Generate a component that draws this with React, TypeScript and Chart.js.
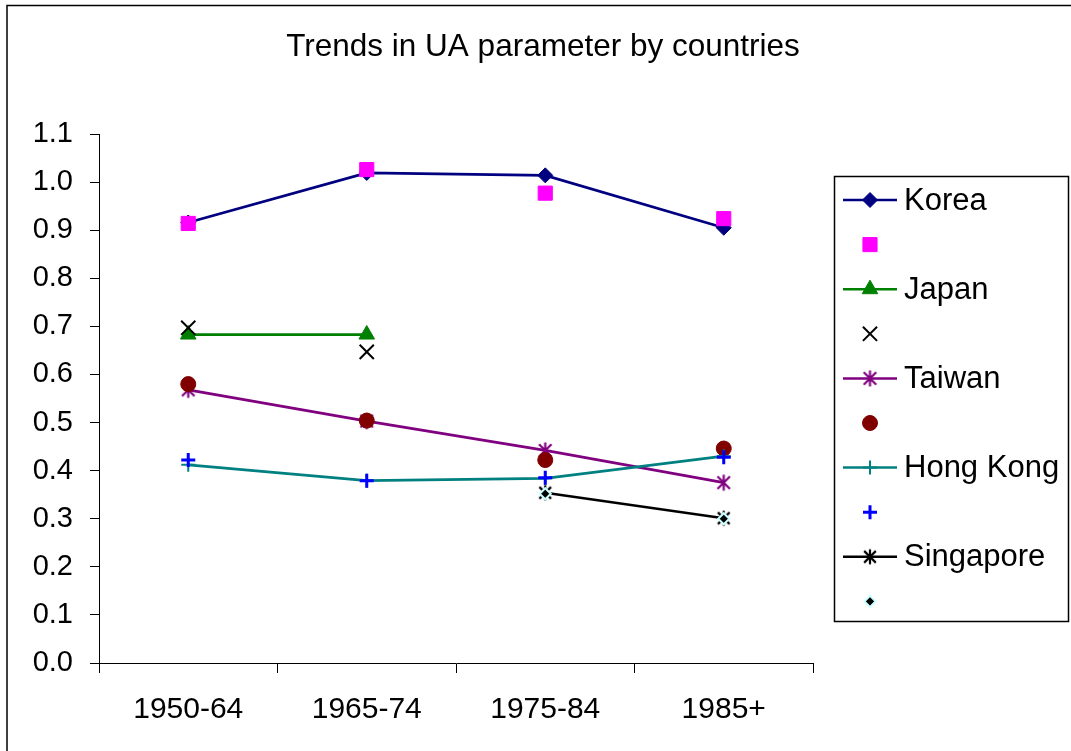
import React, { useEffect, useRef } from 'react';
import { Chart, registerables } from 'chart.js';
import { drawPoint } from 'chart.js/helpers';

Chart.register(...registerables);

const TITLE = 'Trends in UA parameter by countries';
const categories = ['1950-64', '1965-74', '1975-84', '1985+'];

const korea = [0.916, 1.019, 1.014, 0.905];
const koreaAlt = [0.914, 1.026, 0.977, 0.924];
const japan = [0.683, 0.683, null, null];
const japanAlt = [0.697, 0.647, null, null];
const taiwan = [0.568, 0.503, 0.442, 0.375];
const taiwanAlt = [0.58, 0.504, 0.422, 0.446];
const hongKong = [0.412, 0.379, 0.384, 0.43];
const hongKongAlt = [0.422, 0.379, 0.385, 0.428];
const singapore = [null, null, 0.354, 0.301];
const singaporeAlt = [null, null, 0.352, 0.3];

const yMin = 0;
const yMax = 1.1;
const yStep = 0.1;

const FONT = '"Liberation Sans", Arial, Helvetica, sans-serif';

function makeAsterisk(color: string, r: number, lw: number): HTMLCanvasElement {
  const size = Math.ceil(2 * r + lw + 2);
  const c = document.createElement('canvas');
  c.width = size;
  c.height = size;
  const ctx = c.getContext('2d') as CanvasRenderingContext2D;
  const m = size / 2;
  const d = r * 0.78;
  ctx.strokeStyle = color;
  ctx.lineWidth = lw;
  ctx.beginPath();
  ctx.moveTo(m, m - r);
  ctx.lineTo(m, m + r);
  ctx.moveTo(m - d, m - d);
  ctx.lineTo(m + d, m + d);
  ctx.moveTo(m + d, m - d);
  ctx.lineTo(m - d, m + d);
  ctx.stroke();
  return c;
}

const decorPlugin = {
  id: 'decor',
  afterDraw(chart: any) {
    const ctx: CanvasRenderingContext2D = chart.ctx;
    ctx.save();
    // outer chart border (only left/top visible)
    ctx.strokeStyle = '#000';
    ctx.lineWidth = 1.5;
    ctx.strokeRect(7, 5.5, chart.width + 20, chart.height + 20);

    // title
    ctx.fillStyle = '#000';
    ctx.font = `31.5px ${FONT}`;
    ctx.textAlign = 'center';
    ctx.textBaseline = 'middle';
    ctx.fillText(TITLE, 543, 47);

    // legend box
    ctx.lineWidth = 1.5;
    ctx.strokeStyle = '#000';
    ctx.strokeRect(834.5, 176.5, 234, 445);

    const datasets = chart.data.datasets;
    const startY = 200;
    const step = 44.6;
    datasets.forEach((ds: any, i: number) => {
      const y = startY + i * step;
      if (ds.showLine !== false) {
        ctx.beginPath();
        ctx.strokeStyle = ds.borderColor;
        ctx.lineWidth = 2.5;
        ctx.moveTo(843, y);
        ctx.lineTo(897, y);
        ctx.stroke();
      }
      ctx.fillStyle = ds.pointBackgroundColor;
      ctx.strokeStyle = ds.pointBorderColor;
      ctx.lineWidth = ds.pointBorderWidth;
      drawPoint(
        ctx,
        {
          pointStyle: ds.pointStyle,
          rotation: 0,
          radius: ds.pointRadius,
          borderWidth: ds.pointBorderWidth,
        } as any,
        870,
        y
      );
      if (ds.label) {
        ctx.fillStyle = '#000';
        ctx.font = `31px ${FONT}`;
        ctx.textAlign = 'left';
        ctx.textBaseline = 'middle';
        ctx.fillText(ds.label, 904, y + 1);
      }
    });
    ctx.restore();
  },
};

export default function App() {
  const canvasRef = useRef<HTMLCanvasElement | null>(null);

  useEffect(() => {
    const canvas = canvasRef.current;
    if (!canvas) return;
    const purpleStar = makeAsterisk('#800080', 8, 2.2);
    const blackStar = makeAsterisk('#000000', 7.5, 2.2);

    const raw: any[] = [
      {
        label: 'Korea', data: korea, borderColor: '#000080', borderWidth: 2.75,
        pointStyle: 'rectRot', pointRadius: 7.5, pointBackgroundColor: '#000080',
        pointBorderColor: '#000080', pointBorderWidth: 1,
      },
      {
        label: '', data: koreaAlt, showLine: false, borderColor: '#FF00FF',
        pointStyle: 'rect', pointRadius: 10, pointBackgroundColor: '#FF00FF',
        pointBorderColor: '#FF00FF', pointBorderWidth: 1,
      },
      {
        label: 'Japan', data: japan, borderColor: '#008000', borderWidth: 2.75,
        pointStyle: 'triangle', pointRadius: 9, pointBackgroundColor: '#008000',
        pointBorderColor: '#008000', pointBorderWidth: 1,
      },
      {
        label: '', data: japanAlt, showLine: false, borderColor: '#000000',
        pointStyle: 'crossRot', pointRadius: 10, pointBackgroundColor: '#000000',
        pointBorderColor: '#000000', pointBorderWidth: 2,
      },
      {
        label: 'Taiwan', data: taiwan, borderColor: '#800080', borderWidth: 2.75,
        pointStyle: purpleStar, pointRadius: 8, pointBackgroundColor: '#800080',
        pointBorderColor: '#800080', pointBorderWidth: 2,
      },
      {
        label: '', data: taiwanAlt, showLine: false, borderColor: '#800000',
        pointStyle: 'circle', pointRadius: 7.5, pointBackgroundColor: '#800000',
        pointBorderColor: '#800000', pointBorderWidth: 1,
      },
      {
        label: 'Hong Kong', data: hongKong, borderColor: '#008080', borderWidth: 2.75,
        pointStyle: 'cross', pointRadius: 7, pointBackgroundColor: '#008080',
        pointBorderColor: '#008080', pointBorderWidth: 2,
      },
      {
        label: '', data: hongKongAlt, showLine: false, borderColor: '#0000FF',
        pointStyle: 'cross', pointRadius: 7, pointBackgroundColor: '#0000FF',
        pointBorderColor: '#0000FF', pointBorderWidth: 3,
      },
      {
        label: 'Singapore', data: singapore, borderColor: '#000000', borderWidth: 2.75,
        pointStyle: blackStar, pointRadius: 7.5, pointBackgroundColor: '#000000',
        pointBorderColor: '#000000', pointBorderWidth: 2,
      },
      {
        label: '', data: singaporeAlt, showLine: false, borderColor: '#000000',
        pointStyle: 'rectRot', pointRadius: 5.5, pointBackgroundColor: '#000000',
        pointBorderColor: '#CCFFFF', pointBorderWidth: 2,
      },
    ];
    const datasets = raw.map((d, i) => ({
      ...d,
      order: raw.length - i,
      fill: false,
      tension: 0,
      spanGaps: false,
      pointHoverRadius: d.pointRadius,
    }));

    const chart = new Chart(canvas, {
      type: 'line',
      data: { labels: categories, datasets },
      options: {
        responsive: false,
        animation: false,
        events: [],
        layout: { padding: { top: 134, right: 258, left: 0, bottom: 0 } },
        plugins: {
          legend: { display: false },
          title: { display: false },
          tooltip: { enabled: false },
        },
        scales: {
          x: {
            type: 'category',
            offset: true,
            grid: {
              offset: true,
              drawOnChartArea: false,
              drawTicks: true,
              tickLength: 10,
              color: '#000',
              lineWidth: 1,
            },
            border: { display: true, color: '#000', width: 1 },
            ticks: {
              color: '#000',
              font: { family: FONT, size: 30 },
              padding: 19,
              maxRotation: 0,
              autoSkip: false,
            },
            afterFit: (s: any) => {
              s.height = 88;
            },
          },
          y: {
            min: yMin,
            max: yMax,
            grid: {
              drawOnChartArea: false,
              drawTicks: true,
              tickLength: 9,
              color: '#000',
              lineWidth: 1,
            },
            border: { display: true, color: '#000', width: 1 },
            ticks: {
              stepSize: yStep,
              color: '#000',
              font: { family: FONT, size: 29 },
              padding: 17,
              callback: (v: any) => Number(v).toFixed(1),
            },
            afterFit: (s: any) => {
              s.width = 99;
            },
          },
        },
      } as any,
      plugins: [decorPlugin],
    });

    return () => {
      chart.destroy();
    };
  }, []);

  return (
    <div style={{ position: 'absolute', left: 0, top: 0, width: 1071, height: 751, background: '#fff' }}>
      <canvas ref={canvasRef} width={1071} height={751} style={{ display: 'block' }} />
    </div>
  );
}
